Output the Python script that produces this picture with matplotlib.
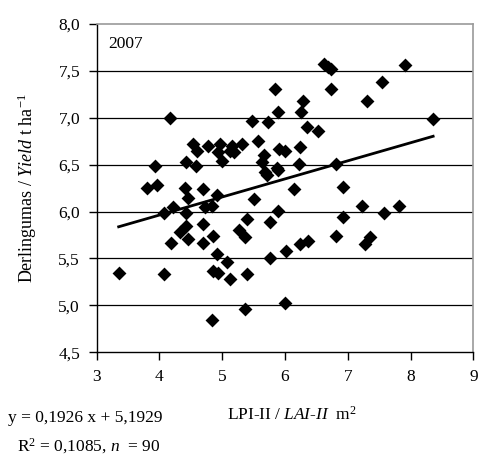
"""
Yield vs LAI-II scatter, 2007
"""

import numpy as np
import matplotlib
matplotlib.use("Agg")
import matplotlib.pyplot as plt
from matplotlib.ticker import FuncFormatter

plt.rcParams["font.family"] = ["Liberation Serif", "DejaVu Serif"]
plt.rcParams["mathtext.fontset"] = "custom"
plt.rcParams["mathtext.rm"] = "Liberation Serif"
plt.rcParams["mathtext.it"] = "Liberation Serif:italic"

# LPI-II (x) and yield (y)
lai = [
    3.35, 3.80, 3.93, 3.96, 4.08, 4.08, 4.17, 4.21, 4.18, 4.33,
    4.41, 4.43, 4.43, 4.46, 4.46, 4.43, 4.58, 4.54, 4.59, 4.69,
    4.70, 4.70, 4.73, 4.78, 4.83, 4.84, 4.86, 4.86, 4.91, 4.91,
    4.94, 4.94, 4.97, 4.99, 5.08, 5.12, 5.12, 5.16, 5.18, 5.26,
    5.32, 5.36, 5.37, 5.39, 5.39, 5.48, 5.50, 5.57, 5.66, 5.64,
    5.68, 5.71, 5.73, 5.76, 5.76, 5.84, 5.89, 5.89, 5.89, 5.91,
    6.00, 6.00, 6.02, 5.87, 6.15, 6.23, 6.24, 6.24, 6.26, 6.29,
    6.35, 6.37, 6.52, 6.62, 6.69, 6.74, 6.74, 6.82, 6.82, 6.93,
    6.93, 7.22, 7.28, 7.30, 7.36, 7.55, 7.57, 7.81, 7.91, 8.36,
]
yld = [
    5.35, 6.255, 6.49, 6.28, 5.98, 5.335, 7.00, 6.045, 5.67, 5.78,
    6.255, 5.98, 5.85, 5.71, 6.15, 6.525, 6.49, 6.72, 6.65, 6.24,
    5.87, 5.66, 6.045, 6.70, 6.06, 4.84, 5.37, 5.74, 6.18, 5.55,
    5.35, 6.63, 6.72, 6.54, 5.46, 5.28, 6.65, 6.70, 6.63, 5.80,
    6.72, 4.96, 5.73, 5.92, 5.335, 6.97, 6.135, 6.755, 6.60, 6.525,
    6.42, 6.39, 6.95, 5.89, 5.51, 7.31, 7.06, 6.01, 6.44, 6.67,
    6.65, 5.03, 5.58, 6.46, 6.24, 6.51, 6.69, 5.655, 7.065, 7.18,
    6.90, 5.69, 6.86, 7.57, 7.545, 7.52, 7.31, 6.51, 5.74, 6.26,
    5.94, 6.06, 5.655, 7.18, 5.725, 7.38, 5.99, 6.06, 7.56, 6.99,
]

slope = 0.1926
intercept = 5.1929
x_ticks = [3, 4, 5, 6, 7, 8, 9]
y_ticks = [4.5, 5.0, 5.5, 6.0, 6.5, 7.0, 7.5, 8.0]


def comma(v, pos):
    return f"{v:.1f}".replace(".", ",")


fig = plt.figure(figsize=(4.78, 4.55), dpi=100)
ax = fig.add_axes([0.2023, 0.2257, 0.7879, 0.7216])

ax.set_xlim(3, 9)
ax.set_ylim(4.5, 8.0)
ax.set_xticks(x_ticks)
ax.set_yticks(y_ticks)
ax.yaxis.set_major_formatter(FuncFormatter(comma))
ax.tick_params(labelsize=12.5, length=6, width=1, color="black", pad=6)

for yv in y_ticks[1:-1]:
    ax.axhline(yv, color="black", lw=0.9, zorder=1)

for side in ("top", "right"):
    ax.spines[side].set_color("#9a9a9a")
    ax.spines[side].set_linewidth(1.2)
for side in ("left", "bottom"):
    ax.spines[side].set_color("black")
    ax.spines[side].set_linewidth(1.0)

ax.scatter(lai, yld, marker="D", s=50, color="black", zorder=3, linewidths=0)

xs = np.array([min(lai), max(lai)])
ax.plot(xs, slope * xs + intercept, color="black", lw=2.0, zorder=2)

ax.text(0.03, 0.94, "2007", transform=ax.transAxes, fontsize=12.5,
        ha="left", va="center")

ax.set_ylabel(r"Derlingumas / $\mathit{Yield}$ t ha$^{-1}$", fontsize=13,
              labelpad=14)
fig.text(0.61, 0.077, r"LPI-II / $\mathit{LAI}$-$\mathit{II}$  m$^{2}$",
         fontsize=12.5, ha="center", va="baseline")
fig.text(0.016, 0.072, "y = 0,1926 x + 5,1929", fontsize=12.5,
         ha="left", va="baseline")
fig.text(0.035, 0.007, r"R$^{2}$ = 0,1085, $n$  = 90", fontsize=12.5,
         ha="left", va="baseline")

fig.savefig("out.png", dpi=100)
plt.close(fig)
